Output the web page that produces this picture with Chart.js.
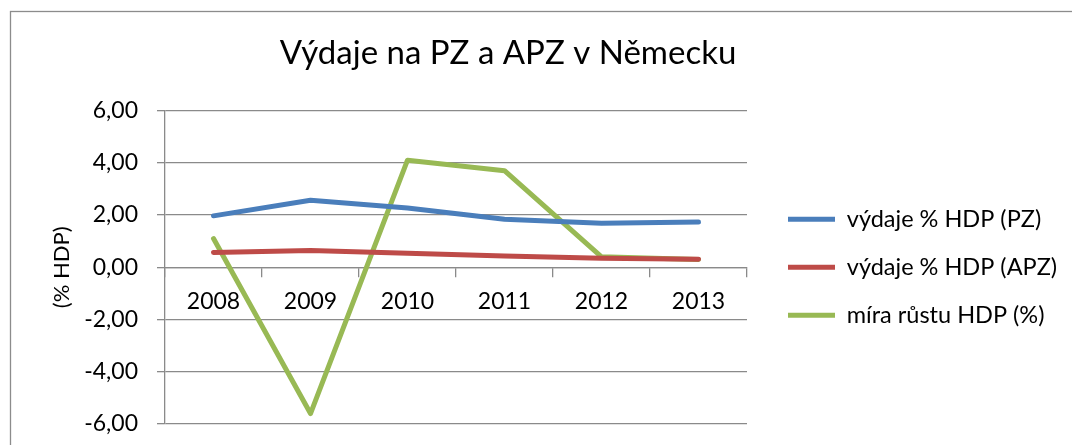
<!DOCTYPE html>
<html>
<head>
<meta charset="utf-8">
<script src="https://cdn.jsdelivr.net/npm/chart.js@4"></script>
<style>
html,body{margin:0;padding:0;background:#fff;}
#wrap{position:relative;width:1072px;height:445px;}
</style>
</head>
<body>
<div id="wrap"><canvas id="c"></canvas></div>
<script>
const years = ['2008', '2009', '2010', '2011', '2012', '2013'];
const pzSpend = [1.97, 2.57, 2.27, 1.84, 1.69, 1.73];
const apzSpend = [0.57, 0.64, 0.54, 0.43, 0.35, 0.31];
const gdpGrowth = [1.1, -5.6, 4.1, 3.7, 0.4, 0.3];
const seriesNames = ['výdaje % HDP (PZ)', 'výdaje % HDP (APZ)', 'míra růstu HDP (%)'];
const yTickValues = [-6, -4, -2, 0, 2, 4, 6];
const chartTitle = 'Výdaje na PZ a APZ v Německu';
const yAxisTitle = '(% HDP)';

const FONT = 'Lato, "Open Sans", sans-serif';
const GRID = '#8a8a8a';

const framePlugin = {
  id: 'frame',
  beforeUpdate(chart) {
    const lg = chart.legend;
    if (lg && !lg._patched) {
      const orig = lg.fit;
      lg.fit = function () { orig.call(this); this.width = 325; };
      lg._patched = true;
    }
  },
  afterLayout(chart) {
    const t = chart.titleBlock;
    if (t) { t.left = 0; t.right = 1016; t.width = 1016; }
    const lg = chart.legend;
    if (lg) { lg.left = 763.5; }
  },
  beforeDraw(chart) {
    const ctx = chart.ctx;
    ctx.save();
    ctx.strokeStyle = '#8c8c8c';
    ctx.lineWidth = 1.3;
    ctx.strokeRect(10.5, 11.5, 1200, 1000);
    ctx.restore();
  }
};

function mk(label, data, color) {
  return {
    label, data,
    borderColor: color, backgroundColor: color,
    borderWidth: 5, pointRadius: 0, pointHoverRadius: 0,
    borderCapStyle: 'round', borderJoinStyle: 'round',
    tension: 0, fill: false, pointStyle: 'line'
  };
}

new Chart(document.getElementById('c'), {
  type: 'line',
  data: {
    labels: years,
    datasets: [
      mk(seriesNames[0], pzSpend, '#4a7ebb'),
      mk(seriesNames[1], apzSpend, '#be4b48'),
      mk(seriesNames[2], gdpGrowth, '#98b954')
    ]
  },
  plugins: [framePlugin],
  options: {
    responsive: true,
    maintainAspectRatio: false,
    animation: false,
    layout: { padding: { left: 0, right: 0, top: 0, bottom: 21 } },
    plugins: {
      title: {
        display: true, text: chartTitle, color: '#000',
        font: { family: FONT, size: 33, weight: 'normal' },
        padding: { top: 34, bottom: 37 }
      },
      legend: {
        position: 'right', fullSize: false,
        labels: {
          usePointStyle: true, pointStyleWidth: 47,
          color: '#000', padding: 24.5,
          font: { family: FONT, size: 23.5 }
        }
      },
      tooltip: { enabled: false }
    },
    scales: {
      x: {
        type: 'category',
        position: { y: 0 },
        offset: true,
        afterFit(s) { s.height = 0; },
        grid: { drawOnChartArea: false, offset: true, tickLength: 9, color: GRID, lineWidth: 1.3 },
        border: { display: true, color: GRID, width: 1.3 },
        ticks: { color: '#000', padding: 11, font: { family: FONT, size: 23 }, maxRotation: 0 }
      },
      y: {
        min: -6, max: 6,
        afterBuildTicks(s) { s.ticks = yTickValues.map(v => ({ value: v })); },
        afterFit(s) { s.width = 165; s.paddingTop = 0; s.paddingBottom = 0; },
        grid: { color: GRID, lineWidth: 1.3, tickLength: 8 },
        border: { display: true, color: GRID, width: 1.3 },
        ticks: {
          color: '#000', padding: 19, font: { family: FONT, size: 23 },
          callback: v => v.toFixed(2).replace('.', ',')
        },
        title: {
          display: true, text: yAxisTitle, color: '#000',
          font: { family: FONT, size: 22 }, padding: { top: 49, bottom: 0 }
        }
      }
    }
  }
});
</script>
</body>
</html>
